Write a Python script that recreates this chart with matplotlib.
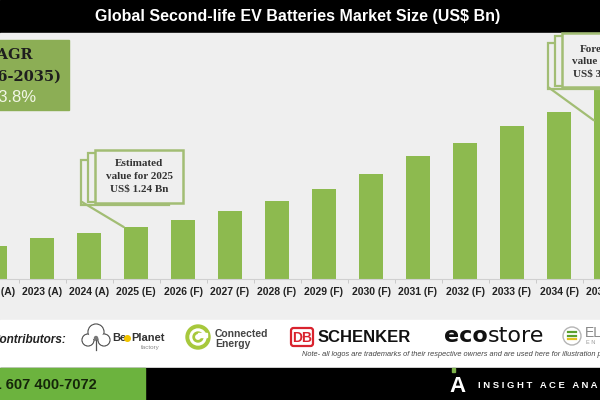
import matplotlib
matplotlib.use("Agg")
import matplotlib.pyplot as plt
from matplotlib.patches import Rectangle, Circle, FancyBboxPatch, ConnectionPatch

# data (US$ Bn)
years = ["2022 (A)", "2023 (A)", "2024 (A)", "2025 (E)", "2026 (F)", "2027 (F)", "2028 (F)",
         "2029 (F)", "2030 (F)", "2031 (F)", "2032 (F)", "2033 (F)", "2034 (F)", "2035 (F)"]
market_size = [0.79, 0.98, 1.10, 1.24, 1.41, 1.62, 1.86, 2.15, 2.51, 2.94, 3.25, 3.65, 3.99, 4.51]

title = "Global Second-life EV Batteries Market Size (US$ Bn)"
cagr_lines = ["CAGR", "(2026-2035)", "13.8%"]
est_lines = ["Estimated", "value for 2025", "US$ 1.24 Bn"]
fc_lines = ["Forecasted", "value for 2035", "US$ 3"]

bar_green = "#8dba4f"
box_green = "#8cae55"
edge_green = "#a2bd74"
bg_gray = "#efefef"
serif = "Liberation Serif"
sans = "Liberation Sans"

W, H = 600, 400
fig = plt.figure(figsize=(6, 4), dpi=100)

# background layer in pixel coords (y goes down)
bg = fig.add_axes([0, 0, 1, 1], zorder=0)
bg.set_xlim(0, W)
bg.set_ylim(H, 0)
bg.axis("off")

bg.add_patch(Rectangle((0, 0), W, 33, color="black"))
bg.add_patch(Rectangle((0, 33), W, 287, color=bg_gray))
bg.add_patch(Rectangle((0, 320), W, 48, color="white"))
bg.add_patch(Rectangle((0, 368), W, 32, color="black"))
bg.add_patch(Rectangle((0, 368), 145, 32, color="#6cb33e"))

bg.text(298, 16, title, color="white", fontsize=11.5, fontweight="bold",
        family=sans, ha="center", va="center")

# CAGR box (cut by the left edge like the source image)
bg.add_patch(Rectangle((-10, 40), 79, 70, color=box_green))
bg.text(33, 55, cagr_lines[0], family="DejaVu Serif", fontweight="bold", fontsize=10.5,
        color="#1e1e1e", ha="right", va="center")
bg.text(62, 77, cagr_lines[1], family="DejaVu Serif", fontweight="bold", fontsize=10.5,
        color="#1e1e1e", ha="right", va="center")
bg.text(37, 98, cagr_lines[2], family=sans, fontsize=12, color="#f2f6e6",
        ha="right", va="center")

# bar chart, axes a bit wider than the figure so the edge labels get cut like the source
ax = fig.add_axes([-30 / W, (H - 279) / H, 660 / W, 247 / H], zorder=1)
ax.patch.set_alpha(0)
x = list(range(len(years)))
ax.bar(x, market_size, width=0.51, color=bar_green, zorder=2)
ax.set_xticks(x)
ax.set_xticklabels(years, fontsize=7.5, fontweight="bold", family=sans, color="#222222")
ax.set_xticks([i - 0.5 for i in x] + [13.5], minor=True)
ax.set_xlim(-25 / 47, 635 / 47)
ax.set_ylim(0, 247 / 41.9)
ax.tick_params(axis="x", which="major", length=0, pad=6)
ax.tick_params(axis="x", which="minor", length=3, color="#c4c4c4")
ax.set_yticks([])
for s in ["left", "right", "top"]:
    ax.spines[s].set_visible(False)
ax.spines["bottom"].set_color("#d0d0d0")
ax.spines["bottom"].set_linewidth(0.8)

# callouts on top
top = fig.add_axes([0, 0, 1, 1], zorder=3)
top.set_xlim(0, W)
top.set_ylim(H, 0)
top.axis("off")


def callout(x0, x1, y0, y1, lines, xs, ha, ty):
    top.add_patch(Rectangle((x0 - 14, y0 + 10), x1 - x0, y1 - y0 - 8, facecolor=bg_gray,
                            edgecolor=edge_green, lw=1.6))
    top.add_patch(Rectangle((x0 - 7, y0 + 3), x1 - x0, y1 - y0 - 4, facecolor=bg_gray,
                            edgecolor=edge_green, lw=1.6))
    top.add_patch(Rectangle((x0, y0), x1 - x0, y1 - y0, facecolor=bg_gray,
                            edgecolor=edge_green, lw=1.8))
    for k, line in enumerate(lines):
        top.text(xs[k], ty + 12.5 * k, line, family=serif, fontweight="bold", fontsize=8,
                 color="#333333", ha=ha, va="center")


callout(95, 183, 150, 203, est_lines, [139, 139, 139], "center", 164)
callout(562, 640, 33, 87, fc_lines, [580, 572, 573], "left", 49)

fig.add_artist(ConnectionPatch(xyA=(82 / W, 1 - 202 / H), coordsA="figure fraction",
                               xyB=(3 - 0.26, market_size[3]), coordsB=ax.transData,
                               color=edge_green, lw=1.6, zorder=4))
fig.add_artist(ConnectionPatch(xyA=(548 / W, 1 - 87 / H), coordsA="figure fraction",
                               xyB=(13 - 0.26, market_size[13] * 0.84), coordsB=ax.transData,
                               color=edge_green, lw=1.6, zorder=4))

# contributors row
bg.text(66, 340, "Contributors:", family=sans, fontweight="bold", style="italic",
        fontsize=8.5, color="#222222", ha="right", va="center")

# BeePlanet-like cloud
for cx, cy, r in [(88, 340, 6), (96, 332, 8), (104, 340, 6)]:
    bg.add_patch(Circle((cx, cy), r, facecolor="white", edgecolor="#555555", lw=0.9, zorder=2))
for cx, cy, r in [(88, 340, 5.2), (96, 332, 7.2), (104, 340, 5.2)]:
    bg.add_patch(Circle((cx, cy), r, facecolor="white", edgecolor="none", zorder=3))
bg.plot([96, 96], [338, 350], color="#555555", lw=0.9, zorder=4)
bg.add_patch(Circle((96, 338), 2.2, facecolor="#777777", zorder=4))
bg.text(112, 338, "Be", family=sans, fontweight="bold", fontsize=8, color="#333333",
        ha="left", va="center")
bg.add_patch(Circle((127.5, 338.5), 2.8, color="#f2c500", zorder=3))
bg.text(131, 338, "Planet", family=sans, fontweight="bold", fontsize=8, color="#333333",
        ha="left", va="center")
bg.text(160, 347, "factory", family=sans, fontsize=4.5, color="#888888", ha="right", va="center")

# Connected Energy
bg.add_patch(Circle((198, 337), 12, color="#a7c83c", zorder=2))
bg.add_patch(Circle((198, 337), 8, color="white", zorder=3))
bg.add_patch(Circle((198, 337), 5, color="#a7c83c", zorder=4))
bg.add_patch(Circle((198, 337), 2.2, color="white", zorder=5))
bg.add_patch(Rectangle((198, 333), 9, 3.5, color="white", zorder=5))
bg.text(215, 334, "Connected", family=sans, fontweight="bold", fontsize=7.5, color="#444444",
        ha="left", va="center")
bg.text(215, 344, "Energy", family=sans, fontweight="bold", fontsize=7.5, color="#444444",
        ha="left", va="center")

# DB Schenker
bg.add_patch(FancyBboxPatch((291, 328), 22, 18, boxstyle="round,pad=0,rounding_size=2.5",
                            facecolor="white", edgecolor="#d9232e", lw=1.6, zorder=2))
bg.text(302, 337.5, "DB", family=sans, fontweight="bold", fontsize=10, color="#d9232e",
        ha="center", va="center", zorder=3)
bg.text(318, 338, "SCHENKER", family=sans, fontweight="bold", fontsize=12, color="#111111",
        ha="left", va="center")

# ecostore
bg.text(488, 336, "eco", family="DejaVu Sans", fontweight="bold", fontsize=16,
        color="#111111", ha="right", va="center")
bg.text(488, 336, "store", family="DejaVu Sans", fontsize=16, color="#111111",
        ha="left", va="center")

# last logo, cut at the edge
bg.add_patch(Circle((572, 336), 9, facecolor="white", edgecolor="#b5b5b5", lw=1, zorder=2))
for yy, cc in [(332, "#5aa02c"), (335.5, "#5aa02c"), (339, "#e0c020")]:
    bg.plot([568, 576], [yy, yy], color=cc, lw=1.6, zorder=3)
bg.text(585, 333, "EL", family=sans, fontsize=10, color="#888888", ha="left", va="center")
bg.text(586, 342, "E N", family=sans, fontsize=4, color="#999999", ha="left", va="center")

bg.text(302, 354, "Note- all logos are trademarks of their respective owners and are used here "
        "for illustration purposes only.", family=sans, style="italic", fontsize=5.3,
        color="#444444", ha="left", va="center")

# footer
bg.text(97, 385, "+1 607 400-7072", family=sans, fontweight="bold", fontsize=10.5,
        color="#15260a", ha="right", va="center")
bg.add_patch(Rectangle((452, 368), 3, 4, color="#7db24a"))
bg.text(457, 387, "A", family=sans, fontweight="bold", fontsize=16, color="white",
        ha="center", va="center")
bg.text(478, 386, "I N S I G H T   A C E   A N A L Y T I C", family=sans, fontsize=6.8,
        fontweight="bold", color="white", ha="left", va="center")

fig.savefig("out.png", dpi=100)
